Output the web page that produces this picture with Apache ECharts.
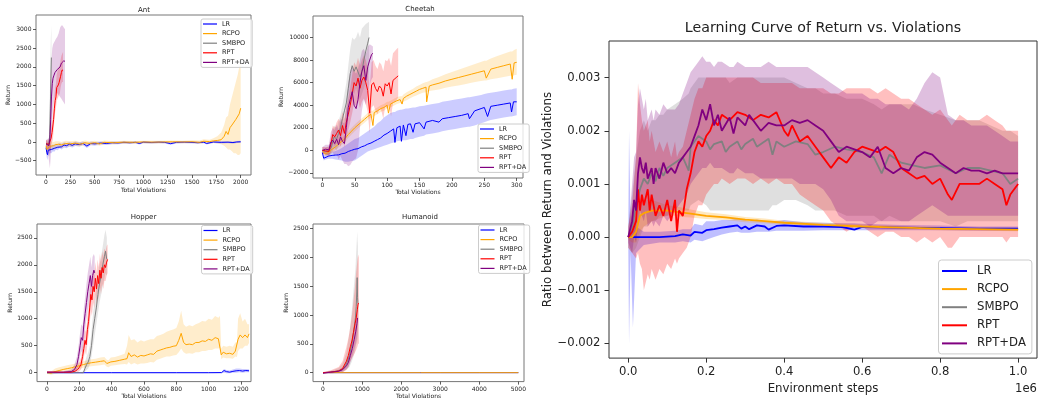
<!DOCTYPE html>
<html>
<head>
<meta charset="utf-8">
<script src="https://cdn.jsdelivr.net/npm/echarts@6/dist/echarts.min.js"></script>
<style>
  html, body { margin: 0; padding: 0; background: #fff; }
  #chart { width: 1038px; height: 400px; }
</style>
</head>
<body>
<div id="chart"></div>
<script>
// rows are [x, mean, lower, upper]
const methods = ['LR', 'RCPO', 'SMBPO', 'RPT', 'RPT+DA'];

// ---- Ant ----
const antXTicks = [0, 250, 500, 750, 1000, 1250, 1500, 1750, 2000];
const antYTicks = [-500, 0, 500, 1000, 1500, 2000, 2500, 3000];
const antLR = [[0,-150,-250,-50],[8,-280,-420,-150],[15,-340,-480,-200],[22,-220,-350,-100],[30,-260,-380,-150],[40,-180,-300,-80],[55,-200,-300,-100],[70,-150,-250,-60],[85,-170,-260,-80],[100,-120,-210,-40],[120,-140,-220,-60],[140,-90,-170,-20],[160,-130,-200,-50],[185,-80,-150,-10],[210,-100,-170,-30],[240,-60,-120,0],[270,-90,-150,-20],[300,-50,-110,10],[340,-70,-120,-10],[380,-40,-90,10],[420,-110,-160,-40],[460,-40,-90,10],[500,-50,-100,0],[560,-30,-70,10],[620,-40,-80,0],[680,-20,-60,15],[740,-25,-60,10],[800,-10,-45,20],[860,-20,-55,15],[920,-10,-40,20],[960,-40,-70,0],[1000,-5,-35,25],[1080,-15,-45,15],[1160,-5,-35,20],[1220,-10,-40,15],[1280,-45,-75,-10],[1340,-10,-40,20],[1420,-5,-35,20],[1500,-10,-40,15],[1560,-20,-50,10],[1620,-5,-35,20],[1650,-40,-70,-5],[1720,0,-30,25],[1800,-10,-40,20],[1870,-5,-35,20],[1920,-15,-45,15],[1960,0,-30,25],[2000,5,-25,30]];
const antRCPO = [[0,-100,-250,50],[10,-200,-350,-50],[20,-150,-300,0],[35,-120,-250,10],[50,-90,-200,20],[75,-100,-200,0],[100,-70,-170,20],[130,-60,-150,20],[160,-80,-160,0],[200,-40,-120,30],[250,-50,-120,20],[300,-30,-100,30],[350,-60,-120,0],[400,-20,-80,40],[450,-40,-90,10],[500,-20,-70,30],[550,-50,-100,0],[600,-10,-60,40],[700,-20,-60,20],[800,-5,-45,35],[900,-10,-45,25],[1000,0,-35,35],[1100,-5,-40,30],[1200,0,-35,35],[1300,5,-30,40],[1400,0,-35,35],[1500,5,-30,45],[1580,-10,-50,40],[1620,20,-30,70],[1680,10,-40,60],[1720,30,-30,100],[1760,40,-40,150],[1800,60,-60,250],[1830,150,-100,450],[1850,280,-150,650],[1870,200,-200,700],[1890,380,-200,1000],[1910,450,-250,1200],[1930,400,-300,1400],[1950,600,-300,1600],[1970,650,-350,1800],[1985,750,-350,2000],[2000,900,-300,2100]];
const antSMBPO = [[0,-50,-150,50],[10,-100,-200,0],[20,-80,-180,20],[30,-60,-160,50],[38,200,-100,1000],[44,900,300,2000],[50,1700,1000,2800],[55,2250,1400,3100]];
const antRPT = [[0,-50,-150,50],[15,-80,-200,40],[30,-60,-200,80],[42,-110,-300,50],[52,100,-100,350],[62,250,0,550],[70,300,50,650],[78,600,300,950],[86,900,600,1250],[94,1100,800,1450],[102,1200,900,1550],[110,1450,1100,1800],[118,1500,1150,1900],[126,1520,1200,1950],[134,1580,1250,2000],[142,1600,1300,2050],[150,1750,1450,2200],[158,1850,1550,2300],[166,1920,1600,2350],[175,1900,1600,2400]];
const antRPTDA = [[0,-50,-150,50],[15,-60,-200,80],[30,-100,-500,100],[40,100,-700,600],[48,600,-400,1500],[56,1200,200,2200],[64,1550,600,2500],[72,1700,900,2600],[82,1780,1100,2650],[92,1850,1200,2700],[102,1900,1300,2750],[115,1930,1300,2800],[130,1950,1250,2900],[145,2000,1200,3050],[158,2100,1150,3100],[170,2140,1100,3100],[182,2160,1050,3050],[195,2150,1000,3000]];

// ---- Cheetah ----
const cheetahXTicks = [0, 50, 100, 150, 200, 250, 300];
const cheetahYTicks = [-2000, 0, 2000, 4000, 6000, 8000, 10000];
const cheetahLR = [[0,-200,-400,0],[2,-700,-900,-500],[5,-550,-800,-300],[10,-500,-750,-250],[15,-450,-750,-150],[20,-420,-800,-50],[25,-400,-850,50],[30,-300,-900,200],[35,-250,-1000,400],[40,-100,-1000,600],[45,0,-950,800],[50,100,-900,1000],[55,150,-700,1100],[60,300,-500,1300],[65,400,-300,1500],[70,550,-100,1700],[75,650,0,1900],[80,800,100,2100],[85,950,200,2400],[90,1100,300,2600],[95,1350,400,2900],[100,1500,500,3100],[105,1700,600,3300],[110,1900,700,3400],[112,700,700,3400],[115,2000,800,3500],[120,2150,850,3600],[122,800,850,3600],[125,2250,900,3650],[129,1300,900,3700],[132,2300,950,3700],[136,2350,1000,3750],[140,1600,1000,3800],[143,2350,1100,3800],[150,2450,1200,3900],[157,1900,1300,3950],[160,2500,1400,4000],[170,2650,1500,4100],[180,2500,1600,4200],[185,2800,1700,4300],[195,2900,1800,4400],[205,3000,1900,4500],[215,3100,2000,4600],[225,3250,2100,4700],[227,2800,2100,4700],[235,3500,2200,4800],[245,3700,2400,4900],[250,3800,2500,5000],[255,3000,2600,5050],[260,3900,2700,5100],[270,4000,2800,5200],[280,4100,2900,5300],[290,4200,3000,5400],[292,3400,3000,5400],[295,4300,3050,5450],[300,4300,3100,5500]];
const cheetahRCPO = [[0,-100,-300,100],[5,-300,-500,-100],[10,-150,-400,100],[15,100,-200,400],[20,300,0,600],[25,550,250,850],[30,800,500,1100],[35,1050,750,1350],[40,1400,1100,1700],[45,1700,1400,2000],[50,2000,1700,2300],[55,2250,1950,2550],[60,2500,2200,2800],[65,2750,2450,3050],[70,3000,2700,3300],[75,3200,2900,3500],[78,2200,2900,3500],[80,3350,3050,3650],[85,3500,3200,3800],[90,3700,3400,4000],[95,3800,3500,4100],[100,4000,3700,4300],[102,3300,3700,4300],[105,4100,3800,4400],[110,4250,3950,4550],[115,4400,4100,4700],[120,4500,4200,4800],[123,4100,4200,4800],[125,4600,4300,4950],[130,4800,4450,5150],[135,4950,4600,5300],[140,5100,4750,5450],[145,5250,4850,5650],[150,5400,5000,5800],[155,5500,5100,5950],[160,5600,5150,6050],[161,4300,5150,6050],[165,5700,5250,6150],[170,5800,5300,6300],[180,5950,5400,6500],[190,6150,5550,6750],[200,6300,5650,6950],[210,6450,5750,7150],[220,6600,5850,7350],[230,6750,6000,7550],[240,6900,6100,7750],[250,7050,6200,7950],[253,6400,6200,7950],[260,7200,6300,8150],[270,7350,6400,8350],[280,7500,6500,8550],[290,7650,6600,8750],[293,6300,6600,8750],[296,7750,6650,8900],[300,7800,6700,9000]];
const cheetahSMBPO = [[0,0,-300,300],[5,-100,-400,200],[10,-50,-500,400],[14,300,-300,900],[18,1200,200,2200],[22,1000,0,2000],[25,1500,400,2600],[28,2000,800,3200],[31,2800,1500,4000],[34,3500,2000,5000],[37,4200,2500,6000],[40,5500,3500,7500],[43,6800,4500,9000],[46,7500,5200,10000],[49,7000,5000,9800],[52,7400,5500,10000],[55,7300,5000,10500],[58,6500,4500,10000],[61,7000,5000,10800],[64,8000,5500,11000],[67,8800,6000,11200],[70,9500,6500,11300],[72,10000,7000,11400]];
const cheetahRPT = [[0,0,-300,300],[5,-50,-400,300],[10,-100,-500,300],[13,500,-200,1200],[16,1400,600,2200],[19,1200,400,2000],[22,1500,600,2500],[25,1800,800,2800],[28,1300,300,2500],[31,2200,1000,3400],[34,1500,300,2800],[37,2500,1200,3800],[40,3200,1800,4600],[43,4000,2500,5500],[46,5000,3300,6700],[49,6000,4200,7800],[52,5700,3900,7500],[55,6400,4500,8200],[58,5500,3700,7500],[61,6200,4300,8000],[64,6500,4600,8400],[67,6000,4100,8000],[70,5300,3400,7300],[73,3300,1500,5500],[76,5800,3800,7800],[79,6000,4000,8000],[82,5500,3500,7500],[85,5200,3200,7200],[88,5700,3700,7800],[91,5500,3500,7600],[94,4800,2800,7000],[97,5900,3900,8000],[100,5700,3700,7900],[103,6000,4000,8200],[106,5000,3000,7500],[109,6200,4200,8600],[112,6300,4300,8800],[115,6500,4500,9000],[117,6600,4700,9100]];
const cheetahRPTDA = [[0,0,-300,300],[5,100,-300,500],[10,50,-400,500],[13,700,-200,1600],[16,900,-200,2000],[19,600,-500,1800],[22,1000,-300,2300],[25,500,-800,1800],[28,1200,-500,2900],[31,800,-900,2500],[34,600,-1200,2400],[37,2000,-1200,4000],[40,3800,-1400,6000],[43,4500,-1300,7000],[46,5200,-1000,7500],[49,4000,-800,7000],[52,3700,-700,6800],[55,4500,0,7200],[58,6000,2000,8000],[61,7000,3500,8800],[64,7500,4500,9000],[67,6200,4000,8500],[70,7400,5000,9200],[73,8000,5800,9400],[76,8500,6300,9300],[78,8600,6500,9200]];

// ---- Hopper ----
const hopperXTicks = [0, 200, 400, 600, 800, 1000, 1200];
const hopperYTicks = [0, 500, 1000, 1500, 2000, 2500];
const hopperLR = [[0,0,-10,10],[200,0,-10,10],[400,0,-10,10],[600,0,-10,10],[800,0,-10,10],[1000,0,-10,10],[1080,2,-10,15],[1095,40,0,70],[1110,20,-10,50],[1130,10,-10,40],[1150,25,0,60],[1170,35,0,80],[1190,40,10,80],[1210,30,0,70],[1230,40,10,70],[1250,35,10,65]];
const hopperRCPO = [[0,0,-20,20],[25,-10,-40,20],[50,20,-20,80],[75,40,0,100],[100,60,10,120],[125,75,20,140],[150,90,30,150],[175,110,50,170],[200,130,70,190],[225,150,90,210],[250,170,110,230],[275,185,120,250],[300,195,130,260],[330,210,140,280],[355,220,150,290],[370,170,110,240],[380,150,100,230],[395,200,130,280],[420,210,140,290],[450,230,150,320],[480,250,160,350],[495,260,150,500],[505,370,200,700],[520,300,150,600],[540,330,180,620],[560,290,150,560],[580,320,170,600],[600,310,170,580],[620,330,180,600],[640,350,200,620],[660,340,190,620],[680,400,240,680],[700,420,260,700],[720,440,280,720],[740,460,300,760],[760,470,300,780],[780,490,320,800],[800,500,330,830],[815,600,380,950],[830,730,450,1150],[845,560,380,900],[860,520,350,850],[880,530,360,880],[900,520,350,860],[920,560,380,900],[940,560,380,920],[960,590,400,960],[980,580,400,950],[1000,620,420,1000],[1020,600,420,980],[1040,650,450,1050],[1060,630,450,1020],[1070,650,460,1050],[1078,330,250,450],[1090,380,280,500],[1110,350,270,480],[1130,360,270,500],[1150,340,260,480],[1165,400,300,560],[1175,380,290,560],[1182,620,400,1000],[1195,700,450,1100],[1210,650,450,950],[1225,700,500,1000],[1240,650,500,900],[1250,720,550,900]];
const hopperSMBPO = [[0,0,-5,5],[100,0,-5,5],[200,0,-5,5],[225,0,-10,20],[235,80,20,200],[245,150,50,300],[255,200,80,380],[265,300,150,500],[275,500,300,750],[285,800,500,1100],[295,1000,700,1350],[305,1200,900,1550],[315,1450,1100,1800],[325,1650,1300,2000],[335,1800,1450,2150],[345,2000,1600,2350],[355,2150,1750,2550],[362,2250,1850,2650],[370,2100,1800,2500]];
const hopperRPT = [[0,10,0,20],[50,10,0,20],[100,5,-5,20],[150,10,-10,40],[175,30,0,80],[190,60,10,130],[200,100,30,200],[210,150,60,280],[220,300,150,480],[228,450,280,650],[235,600,400,800],[242,520,320,750],[250,800,550,1050],[257,950,700,1200],[264,1200,900,1500],[271,1450,1150,1750],[278,1350,1050,1650],[285,1600,1300,1900],[292,1500,1200,1800],[299,1750,1450,2050],[306,1550,1250,1850],[313,1800,1500,2100],[320,1650,1350,1950],[327,1900,1600,2200],[334,1750,1450,2050],[341,1950,1650,2250],[348,1850,1550,2150],[355,2000,1700,2300],[362,1950,1700,2250],[369,2050,1800,2350],[375,2100,1850,2380]];
const hopperRPTDA = [[0,10,0,20],[50,10,0,20],[100,10,0,25],[150,20,0,60],[170,60,10,150],[185,150,50,300],[195,300,150,500],[205,500,300,750],[212,650,400,900],[220,600,350,850],[228,900,600,1200],[236,1100,800,1400],[244,1300,1000,1650],[252,1500,1150,1850],[260,1650,1300,2000],[268,1800,1450,2150],[275,1600,1300,1950],[282,1800,1500,2150],[290,1900,1550,2200],[295,1850,1550,2150]];

// ---- Humanoid ----
const humanoidXTicks = [0, 1000, 2000, 3000, 4000, 5000];
const humanoidYTicks = [0, 500, 1000, 1500, 2000, 2500];
const humanoidLR = [[0,0,-5,5],[1000,0,-5,5],[2000,0,-5,5],[3000,0,-5,5],[4000,0,-5,5],[5000,0,-5,5]];
const humanoidRCPO = [[0,0,-5,5],[1000,0,-5,5],[2500,0,-5,5],[5000,0,-5,5]];
const humanoidSMBPO = [[0,0,-10,10],[200,10,-10,30],[400,30,0,80],[500,60,10,150],[600,150,50,350],[680,300,100,700],[740,500,200,1100],[790,750,300,1500],[830,950,400,1800],[850,1150,500,2100],[865,1400,500,2300],[875,1650,600,2450],[885,1300,550,2300],[895,1200,500,2200]];
const humanoidRPT = [[0,0,-10,10],[200,10,-10,40],[400,30,0,100],[500,70,0,200],[600,200,50,450],[650,300,100,600],[700,450,200,800],[740,550,250,1000],[780,700,300,1250],[820,850,350,1500],[850,950,400,1750],[880,1100,450,1950],[900,1200,500,2050],[920,1200,500,2000]];
const humanoidRPTDA = [[0,-10,-20,0],[100,0,-10,10],[200,10,0,20],[300,15,0,30],[400,25,5,50],[500,50,20,90],[600,120,60,200],[650,180,100,280],[700,300,180,420],[750,420,280,560],[800,580,400,760],[840,720,500,950],[870,850,600,1100],[885,950,700,1200]];

// ---- ratio curve: x in 1e6 steps, y in 1e-3 ----
const ratioXTicks = [0, 0.2, 0.4, 0.6, 0.8, 1.0];
const ratioYTicks = [-2, -1, 0, 1, 2, 3];
const ratioLR = [[0,0,-0.1,0.1],[0.002,0,-2.0,2.0],[0.006,0,-0.3,0.3],[0.012,0,-1.7,0.5],[0.02,0,-0.3,0.2],[0.04,0,-0.15,0.1],[0.08,0,-0.1,0.1],[0.12,0.02,-0.1,0.12],[0.14,0.05,-0.08,0.15],[0.16,0.03,-0.1,0.15],[0.17,0.1,-0.05,0.25],[0.19,0.08,-0.08,0.22],[0.2,0.13,-0.05,0.3],[0.22,0.15,0,0.3],[0.24,0.18,0.05,0.32],[0.26,0.2,0.08,0.32],[0.28,0.22,0.1,0.35],[0.29,0.16,0.08,0.33],[0.3,0.2,0.08,0.32],[0.31,0.15,0.08,0.3],[0.33,0.22,0.1,0.33],[0.35,0.2,0.1,0.3],[0.36,0.14,0.1,0.3],[0.38,0.21,0.12,0.3],[0.4,0.22,0.12,0.32],[0.45,0.2,0.12,0.28],[0.5,0.2,0.13,0.27],[0.55,0.19,0.13,0.26],[0.58,0.14,0.13,0.26],[0.6,0.19,0.13,0.25],[0.7,0.18,0.13,0.23],[0.8,0.17,0.13,0.22],[0.9,0.16,0.12,0.2],[1.0,0.16,0.12,0.2]];
const ratioRCPO = [[0,0,-0.05,0.05],[0.01,0,-0.1,0.1],[0.02,0.1,-0.1,0.4],[0.03,0.4,0.1,0.7],[0.04,0.45,0.2,0.7],[0.06,0.5,0.3,0.7],[0.08,0.5,0.35,0.65],[0.1,0.5,0.4,0.6],[0.12,0.48,0.4,0.58],[0.14,0.46,0.38,0.55],[0.16,0.44,0.37,0.52],[0.2,0.4,0.34,0.47],[0.25,0.37,0.32,0.43],[0.3,0.33,0.28,0.38],[0.35,0.3,0.26,0.35],[0.4,0.27,0.23,0.31],[0.5,0.23,0.2,0.27],[0.6,0.2,0.17,0.24],[0.7,0.18,0.15,0.21],[0.8,0.16,0.13,0.19],[0.9,0.15,0.12,0.18],[1.0,0.14,0.11,0.17]];
const ratioSMBPO = [[0,0,-0.2,0.2],[0.01,0.2,-0.3,0.8],[0.02,0.6,-0.2,1.5],[0.03,0.9,0,2.0],[0.04,1.1,0.2,2.2],[0.05,1.0,0.2,2.0],[0.06,1.2,0.3,2.2],[0.07,1.05,0.3,2.2],[0.08,1.3,0.4,2.3],[0.09,1.15,0.4,2.3],[0.1,1.3,0.4,2.4],[0.12,1.4,0.5,2.5],[0.14,1.5,0.5,2.6],[0.155,1.25,0.5,2.7],[0.16,1.7,0.6,2.8],[0.18,1.9,0.7,3.0],[0.2,1.8,0.6,3.0],[0.21,1.65,0.5,3.0],[0.22,1.75,0.5,3.0],[0.24,1.8,0.5,3.0],[0.25,1.6,0.5,3.0],[0.26,1.7,0.5,2.9],[0.28,1.8,0.5,3.0],[0.29,1.65,0.5,3.0],[0.3,1.75,0.5,3.0],[0.32,1.85,0.5,3.0],[0.33,1.7,0.5,3.0],[0.36,1.85,0.5,3.0],[0.37,1.55,0.6,3.0],[0.38,1.8,0.6,3.0],[0.4,1.7,0.7,3.0],[0.43,1.8,0.7,2.9],[0.46,1.75,0.6,2.8],[0.48,1.55,0.5,2.8],[0.5,1.6,0.5,2.7],[0.53,1.7,0.5,2.7],[0.56,1.65,0.4,2.6],[0.6,1.6,0.4,2.6],[0.63,1.5,0.4,2.5],[0.65,1.2,0.3,2.4],[0.67,1.55,0.4,2.5],[0.7,1.4,0.3,2.5],[0.73,1.35,0.3,2.5],[0.76,1.3,0.3,2.4],[0.8,1.35,0.3,2.3],[0.84,1.2,0.2,2.2],[0.87,1.3,0.3,2.2],[0.9,1.3,0.3,2.2],[0.93,1.25,0.3,2.1],[0.96,1.2,0.3,2.0],[0.98,1.0,0.3,2.0],[1.0,1.1,0.3,1.9]];
const ratioRPT = [[0,0,-0.2,0.2],[0.01,0.1,-0.3,0.6],[0.02,0.3,-0.4,1.5],[0.025,0.9,-0.3,2.9],[0.03,0.5,-0.5,2.5],[0.035,0.8,-0.6,2.2],[0.04,0.6,-1.0,2.0],[0.05,0.9,-0.7,2.2],[0.055,0.5,-0.8,1.8],[0.06,0.8,-0.6,2.0],[0.07,0.4,-0.8,1.6],[0.08,0.6,-0.6,1.8],[0.09,0.4,-0.7,1.6],[0.1,0.7,-0.5,1.8],[0.11,0.3,-0.6,1.5],[0.12,0.7,-0.4,1.8],[0.125,0.1,-0.5,1.5],[0.13,0.5,-0.4,1.6],[0.14,0.4,-0.3,1.7],[0.15,0.9,-0.2,2.0],[0.16,1.2,0,2.3],[0.17,1.6,0.4,2.6],[0.18,1.8,0.6,2.8],[0.19,1.7,0.6,2.8],[0.2,1.9,0.8,3.0],[0.21,2.0,0.9,3.0],[0.22,2.2,1.0,3.0],[0.23,2.1,1.0,3.0],[0.24,2.3,1.1,3.0],[0.26,2.2,1.0,3.0],[0.28,2.35,1.1,3.0],[0.3,2.3,1.1,3.0],[0.32,2.2,1.0,3.0],[0.34,2.3,1.1,2.9],[0.36,2.25,1.0,2.9],[0.38,2.35,1.1,2.9],[0.4,2.0,1.0,2.9],[0.41,1.9,1.0,2.9],[0.42,2.1,1.0,2.9],[0.44,1.8,0.8,2.8],[0.46,1.9,0.7,2.8],[0.48,1.7,0.6,2.8],[0.5,1.5,0.5,2.8],[0.52,1.3,0.3,2.7],[0.54,1.5,0.2,2.7],[0.56,1.4,0.1,2.8],[0.58,1.6,0.2,2.8],[0.6,1.7,0.2,2.8],[0.62,1.65,0.1,2.8],[0.64,1.6,0,2.7],[0.66,1.7,0.1,2.8],[0.68,1.6,0.1,2.7],[0.7,1.3,0,2.6],[0.72,1.2,0,2.6],[0.74,1.1,-0.1,2.5],[0.76,1.15,0,2.4],[0.78,1.0,-0.1,2.3],[0.8,1.1,0,2.4],[0.82,0.8,-0.2,2.2],[0.83,0.7,-0.2,2.1],[0.85,1.0,0,2.3],[0.87,1.0,0,2.2],[0.9,1.0,0,2.2],[0.92,1.1,0,2.3],[0.94,1.0,0,2.2],[0.96,0.9,0,2.1],[0.97,0.6,-0.1,2.0],[0.98,0.8,0,2.0],[1.0,1.0,0,2.0]];
const ratioRPTDA = [[0,0,-0.1,0.1],[0.01,0.3,-0.3,1.0],[0.015,0.7,0,1.5],[0.02,0.5,-0.1,1.6],[0.025,1.2,0.2,2.5],[0.03,1.5,0.5,2.8],[0.035,1.3,0.4,2.6],[0.04,1.2,0.3,2.4],[0.045,1.4,0.5,2.6],[0.05,1.1,0.2,2.2],[0.06,1.3,0.3,2.4],[0.065,1.0,0.2,2.2],[0.07,1.3,0.3,2.4],[0.08,1.1,0.2,2.3],[0.09,1.4,0.4,2.5],[0.1,1.2,0.3,2.4],[0.11,1.3,0.4,2.4],[0.12,1.2,0.5,2.4],[0.13,1.4,0.6,2.5],[0.14,1.5,0.7,2.7],[0.15,1.6,0.8,2.9],[0.16,1.7,1.0,3.1],[0.17,1.9,1.1,3.2],[0.18,2.1,1.2,3.3],[0.19,2.4,1.3,3.4],[0.2,2.2,1.3,3.3],[0.21,2.5,1.4,3.3],[0.22,2.1,1.3,3.2],[0.23,2.3,1.3,3.3],[0.24,2.0,1.3,3.3],[0.26,2.25,1.2,3.2],[0.27,1.95,1.2,3.2],[0.28,2.25,1.3,3.3],[0.3,2.1,1.2,3.2],[0.31,2.3,1.2,3.2],[0.32,2.2,1.2,3.2],[0.34,2.0,1.1,3.2],[0.36,2.15,1.1,3.3],[0.38,2.1,1.1,3.2],[0.4,2.1,1.1,3.2],[0.42,2.2,1.1,3.2],[0.44,2.15,1.0,3.2],[0.46,2.2,1.0,3.2],[0.48,2.1,1.0,3.1],[0.5,2.0,0.9,3.0],[0.52,1.8,0.7,2.9],[0.54,1.6,0.4,2.8],[0.56,1.7,0.3,2.7],[0.58,1.65,0.3,2.7],[0.6,1.6,0.3,2.7],[0.62,1.5,0.2,2.6],[0.64,1.7,0.3,2.6],[0.66,1.3,0.3,2.5],[0.68,1.2,0.3,2.5],[0.7,1.3,0.3,2.5],[0.72,1.25,0.3,2.4],[0.74,1.5,0.4,2.6],[0.76,1.6,0.5,2.9],[0.78,1.55,0.6,3.1],[0.8,1.4,0.5,3.0],[0.82,1.3,0.4,2.3],[0.84,1.2,0.4,2.2],[0.86,1.3,0.4,2.2],[0.88,1.25,0.4,2.1],[0.9,1.25,0.4,2.1],[0.92,1.2,0.4,2.1],[0.94,1.25,0.4,2.0],[0.96,1.2,0.4,1.9],[0.98,1.2,0.4,1.8],[1.0,1.2,0.4,1.8]];

const colors = { 'LR': '#0000ff', 'RCPO': '#ffa500', 'SMBPO': '#808080', 'RPT': '#ff0000', 'RPT+DA': '#800080' };
const bandColors = { 'LR': '0,0,255', 'RCPO': '255,165,0', 'SMBPO': '128,128,128', 'RPT': '255,0,0', 'RPT+DA': '128,0,128' };

const FONT = 'DejaVu Sans';
const TXT = '#222';

const panels = [
  { title: 'Ant', grid: { left: 36, top: 15, width: 215, height: 160 }, x: [-103, 2106], y: [-880, 3383],
    xt: antXTicks, yt: antYTicks, rows: [antLR, antRCPO, antSMBPO, antRPT, antRPTDA],
    titlePos: [144, 6.2], yGap: 22, xGap: 12.5, legend: { left: 201, top: 19 } },
  { title: 'Cheetah', grid: { left: 313, top: 16, width: 210, height: 162 }, x: [-14.5, 309.7], y: [-2450, 11905],
    xt: cheetahXTicks, yt: cheetahYTicks, rows: [cheetahLR, cheetahRCPO, cheetahSMBPO, cheetahRPT, cheetahRPTDA],
    titlePos: [420, 5.6], yGap: 27, xGap: 10, legend: { left: 478, top: 124 } },
  { title: 'Hopper', grid: { left: 37, top: 224, width: 214, height: 159 }, x: [-62, 1262], y: [-165, 2756],
    xt: hopperXTicks, yt: hopperYTicks, rows: [hopperLR, hopperRCPO, hopperSMBPO, hopperRPT, hopperRPTDA],
    titlePos: [143.5, 213.4], yGap: 22, xGap: 10.5, legend: { left: 201.5, top: 225.5 } },
  { title: 'Humanoid', grid: { left: 313, top: 224, width: 211, height: 159 }, x: [-256, 5145], y: [-155, 2581],
    xt: humanoidXTicks, yt: humanoidYTicks, rows: [humanoidLR, humanoidRCPO, humanoidSMBPO, humanoidRPT, humanoidRPTDA],
    titlePos: [420, 213.4], yGap: 22, xGap: 11, legend: { left: 478.5, top: 225 } },
  { title: 'Learning Curve of Return vs. Violations', big: true, grid: { left: 609, top: 41, width: 428, height: 319 },
    x: [-0.0494, 1.0485], y: [-2.275, 3.688],
    xt: ratioXTicks, yt: ratioYTicks, rows: [ratioLR, ratioRCPO, ratioSMBPO, ratioRPT, ratioRPTDA],
    titlePos: [823, 21], yGap: 54, xGap: 22, legend: { left: 938.5, top: 260 } }
];

const intFmt = v => (v < 0 ? '\u2212' + (-v) : String(v));
const ratioXFmt = v => v.toFixed(1);
const ratioYFmt = v => (v < 0 ? '\u2212' : '') + (Math.abs(v) / 1000).toFixed(3);

function bandSeries(idx, rows, rgb, alpha) {
  return {
    type: 'custom', xAxisIndex: idx, yAxisIndex: idx, clip: true, silent: true, z: 1,
    data: [[rows[0][0], rows[0][1]]],
    renderItem: (params, api) => {
      const upper = rows.map(r => api.coord([r[0], r[3]]));
      const lower = rows.slice().reverse().map(r => api.coord([r[0], r[2]]));
      return { type: 'polygon', shape: { points: upper.concat(lower) }, style: { fill: 'rgba(' + rgb + ',' + alpha + ')' } };
    }
  };
}

const option = { animation: false, backgroundColor: '#fff', grid: [], xAxis: [], yAxis: [], series: [], legend: [], title: [] };

panels.forEach((p, i) => {
  const big = !!p.big;
  const tickFont = big ? 11.6 : 6;
  const nameFont = big ? 11.8 : 6;
  option.grid.push(Object.assign({ show: true, borderColor: big ? '#333' : '#777', borderWidth: 1, backgroundColor: 'transparent' }, p.grid));
  option.title.push({
    text: p.title, left: p.titlePos[0], top: p.titlePos[1], textAlign: 'center', padding: 0,
    textStyle: { fontFamily: FONT, fontWeight: 'normal', fontSize: big ? 14.2 : 7, color: TXT }
  });
  const axisCommon = (ticks, fmt, margin) => ({
    type: 'value', splitLine: { show: false },
    axisLine: { show: false, onZero: false },
    axisTick: { show: true, customValues: ticks, length: big ? 4.5 : 3, lineStyle: { color: '#333', width: big ? 1 : 0.8 } },
    axisLabel: { customValues: ticks, formatter: fmt, fontFamily: FONT, fontSize: tickFont, color: TXT, margin: margin }
  });
  option.xAxis.push(Object.assign(axisCommon(p.xt, big ? ratioXFmt : intFmt, big ? 8 : 4.5), {
    gridIndex: i, min: p.x[0], max: p.x[1],
    name: big ? 'Environment steps' : 'Total Violations', nameLocation: 'middle', nameGap: p.xGap,
    nameTextStyle: { fontFamily: FONT, fontSize: nameFont, color: TXT }
  }));
  option.yAxis.push(Object.assign(axisCommon(p.yt, big ? ratioYFmt : intFmt, big ? 8.5 : 4.5), {
    gridIndex: i, min: p.y[0], max: p.y[1],
    name: big ? 'Ratio between Return and Violations' : 'Return', nameLocation: 'middle', nameGap: p.yGap,
    nameTextStyle: { fontFamily: FONT, fontSize: nameFont, color: TXT }
  }));
  p.rows.forEach((rows, k) => {
    option.series.push(bandSeries(i, rows, bandColors[methods[k]], big ? 0.25 : 0.2));
  });
  p.rows.forEach((rows, k) => {
    option.series.push({
      type: 'line', name: methods[k], xAxisIndex: i, yAxisIndex: i, symbol: 'none', z: 3,
      color: colors[methods[k]],
      lineStyle: { width: big ? 1.8 : 1, color: colors[methods[k]] },
      data: rows.map(r => [r[0], r[1]])
    });
  });
  option.legend.push({
    data: methods, orient: 'vertical', left: p.legend.left, top: p.legend.top,
    icon: 'rect', itemWidth: big ? 25 : 14, itemHeight: big ? 2 : 1.2, itemGap: big ? 4.1 : 1.6,
    padding: big ? [4, 6, 3.5, 3.5] : [1, 3, 1, 2],
    backgroundColor: 'rgba(255,255,255,0.8)', borderColor: '#ccc', borderWidth: 1, borderRadius: big ? 3 : 2,
    selectedMode: false,
    textStyle: { fontFamily: FONT, fontSize: big ? 11.7 : 6.5, lineHeight: big ? 14 : 8, color: TXT, padding: big ? [0, 0, 0, 5] : [0, 0, 0, 0] }
  });
});

option.graphic = [{
  type: 'text', right: 1, top: 383,
  style: { text: '1e6', fontFamily: FONT, fontSize: 11.6, fill: TXT }
}];

const chart = echarts.init(document.getElementById('chart'), null, { renderer: 'canvas' });
chart.setOption(option);
</script>
</body>
</html>
